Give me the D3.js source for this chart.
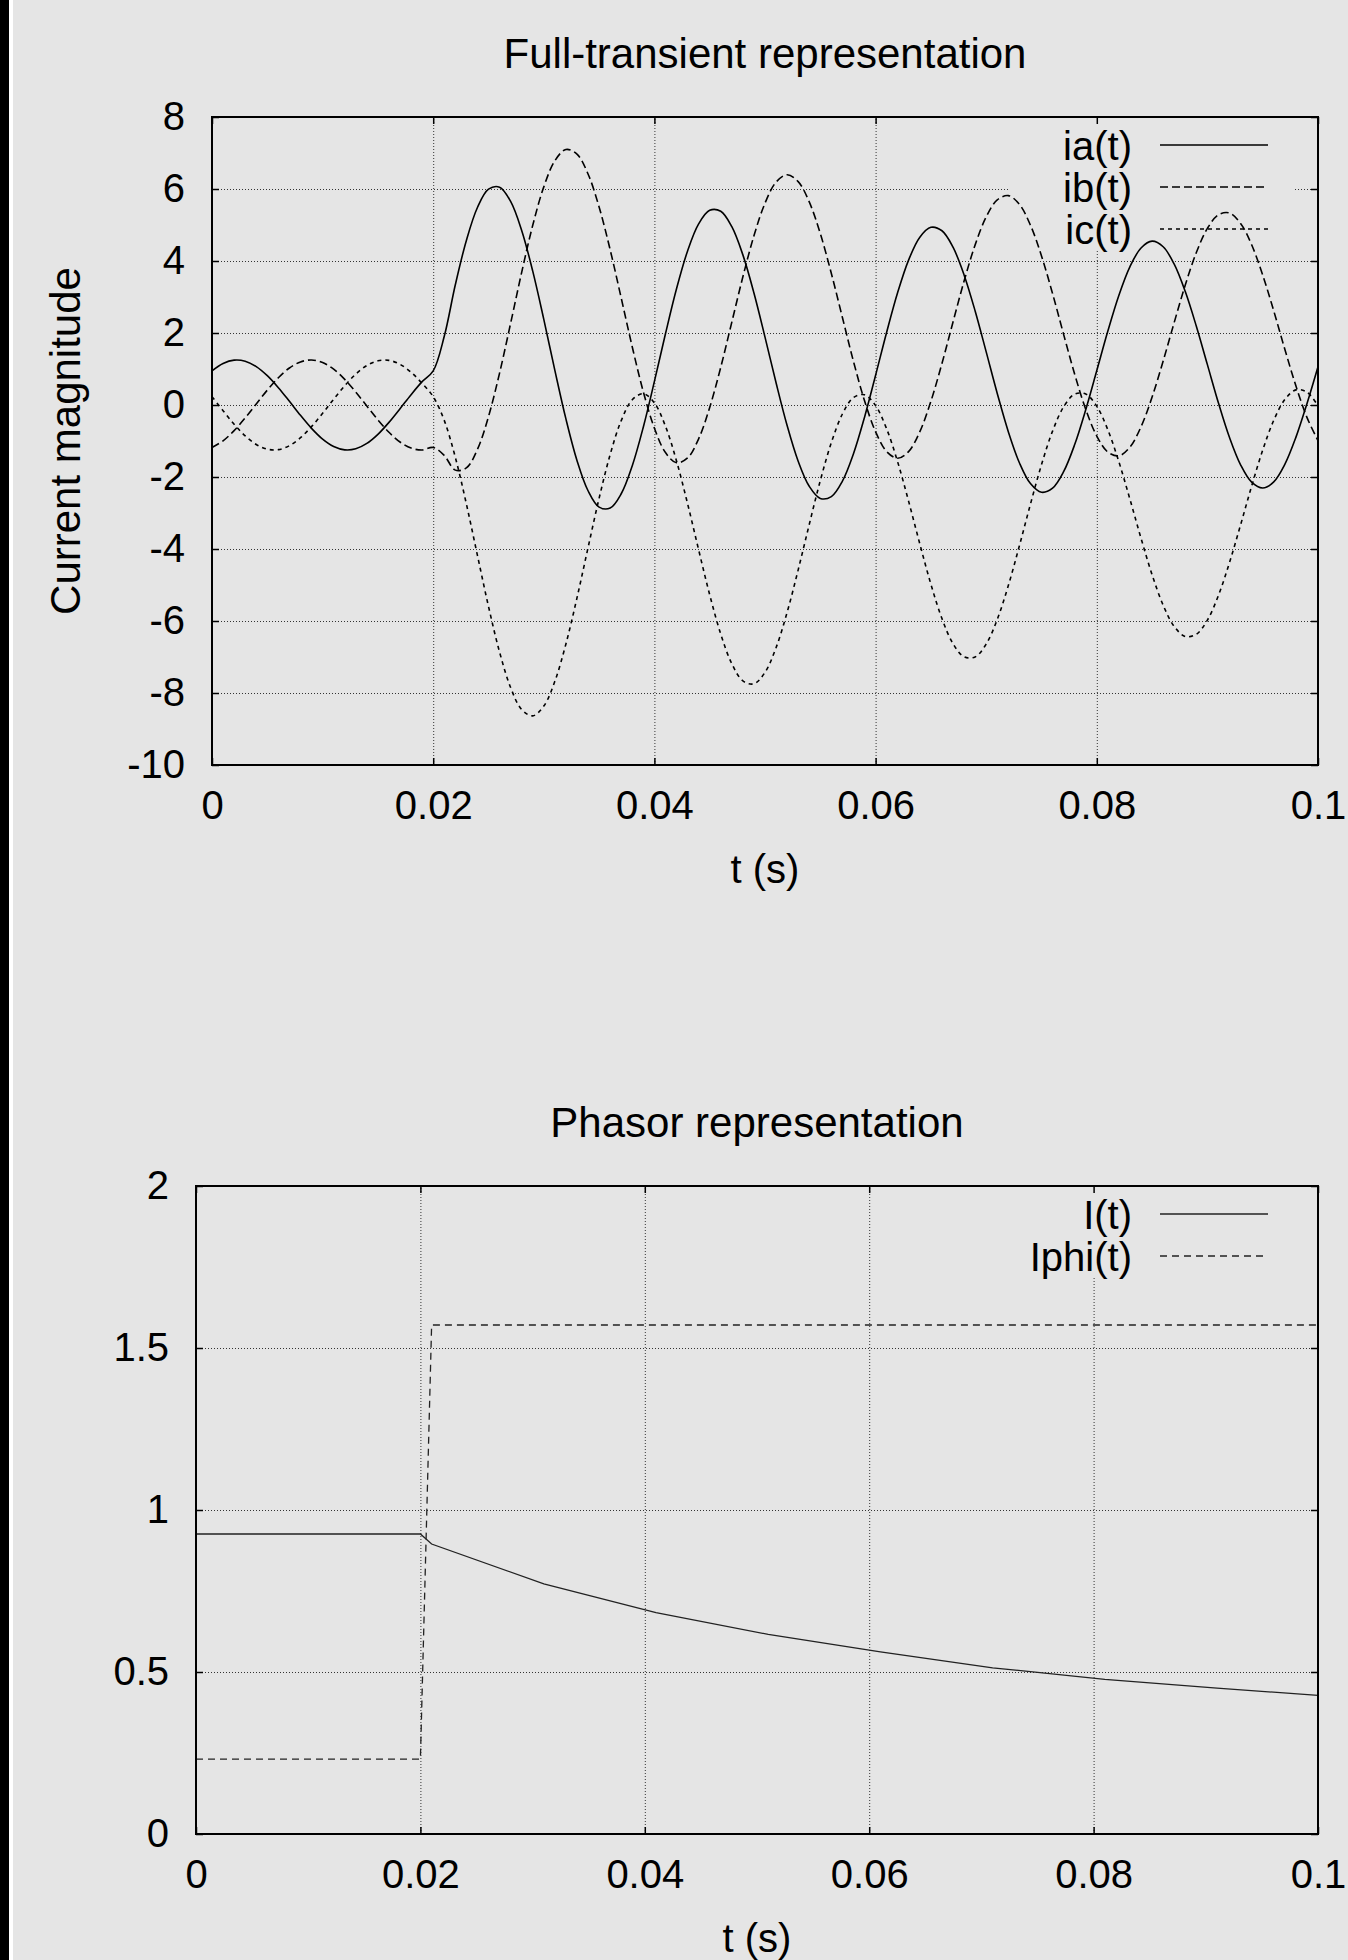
<!DOCTYPE html>
<html lang="en">

<head>
    <meta charset="utf-8">
    <title>Full-transient and phasor representation</title>
    <script src="https://d3js.org/d3.v7.min.js"></script>
    <style>
        body { margin: 0; background: #e5e5e5; }
        svg { display: block; }
    </style>
</head>

<body>
    <div id="chart"></div>

    <script>
        // ---- data ----

        // sample times of the transient plot (s)
        var tTransient = [0, 0.001, 0.002, 0.003, 0.004, 0.005, 0.006, 0.007, 0.008, 0.009,
            0.01, 0.011, 0.012, 0.013, 0.014, 0.015, 0.016, 0.017, 0.018, 0.019,
            0.02, 0.021, 0.022, 0.023, 0.024, 0.025, 0.026, 0.027, 0.028, 0.029,
            0.03, 0.031, 0.032, 0.033, 0.034, 0.035, 0.036, 0.037, 0.038, 0.039,
            0.04, 0.041, 0.042, 0.043, 0.044, 0.045, 0.046, 0.047, 0.048, 0.049,
            0.05, 0.051, 0.052, 0.053, 0.054, 0.055, 0.056, 0.057, 0.058, 0.059,
            0.06, 0.061, 0.062, 0.063, 0.064, 0.065, 0.066, 0.067, 0.068, 0.069,
            0.07, 0.071, 0.072, 0.073, 0.074, 0.075, 0.076, 0.077, 0.078, 0.079,
            0.08, 0.081, 0.082, 0.083, 0.084, 0.085, 0.086, 0.087, 0.088, 0.089,
            0.09, 0.091, 0.092, 0.093, 0.094, 0.095, 0.096, 0.097, 0.098, 0.099, 0.1];

        var ia = [0.948, 1.153, 1.246, 1.217, 1.068, 0.815, 0.482, 0.102, -0.288, -0.649,
            -0.948, -1.153, -1.246, -1.217, -1.068, -0.815, -0.482, -0.102, 0.288, 0.649,
            0.948, 1.908, 3.339, 4.572, 5.486, 5.994, 6.051, 5.655, 4.849, 3.718,
            2.378, 0.963, -0.387, -1.539, -2.382, -2.836, -2.863, -2.465, -1.686, -0.609,
            0.655, 1.978, 3.228, 4.280, 5.031, 5.409, 5.382, 4.953, 4.170, 3.112,
            1.887, 0.618, -0.570, -1.561, -2.258, -2.595, -2.545, -2.115, -1.353, -0.338,
            0.826, 2.022, 3.130, 4.039, 4.662, 4.936, 4.840, 4.383, 3.614, 2.611,
            1.475, 0.320, -0.741, -1.603, -2.183, -2.425, -2.311, -1.853, -1.100, -0.130,
            0.957, 2.053, 3.049, 3.844, 4.362, 4.551, 4.396, 3.912, 3.151, 2.188,
            1.121, 0.055, -0.904, -1.661, -2.144, -2.306, -2.135, -1.649, -0.900, 0.036, 1.064];

        var ib = [-1.180, -0.994, -0.712, -0.359, 0.028, 0.413, 0.758, 1.028, 1.197, 1.250,
            1.180, 0.994, 0.712, 0.359, -0.028, -0.413, -0.758, -1.028, -1.197, -1.250,
            -1.180, -1.403, -1.809, -1.748, -1.233, -0.322, 0.886, 2.269, 3.685, 4.992,
            6.059, 6.784, 7.097, 6.969, 6.418, 5.500, 4.312, 2.971, 1.611, 0.366,
            -0.643, -1.321, -1.604, -1.471, -0.939, -0.068, 1.050, 2.303, 3.561, 4.700,
            5.605, 6.190, 6.396, 6.206, 5.641, 4.761, 3.653, 2.430, 1.211, 0.117,
            -0.745, -1.294, -1.480, -1.287, -0.740, 0.103, 1.154, 2.306, 3.442, 4.448,
            5.225, 5.697, 5.817, 5.574, 4.996, 4.141, 3.095, 1.962, 0.855, -0.119,
            -0.863, -1.308, -1.411, -1.167, -0.604, 0.221, 1.221, 2.294, 3.334, 4.235,
            4.907, 5.285, 5.332, 5.044, 4.450, 3.611, 2.612, 1.550, 0.532, -0.344, -0.991];

        var ic = [0.232, -0.159, -0.534, -0.858, -1.096, -1.228, -1.240, -1.130, -0.909, -0.601,
            -0.232, 0.159, 0.534, 0.858, 1.096, 1.228, 1.240, 1.130, 0.909, 0.601,
            0.232, -0.428, -1.453, -2.748, -4.178, -5.596, -6.862, -7.848, -8.459, -8.635,
            -8.363, -7.674, -6.637, -5.358, -3.964, -2.592, -1.377, -0.435, 0.146, 0.313,
            0.058, -0.588, -1.554, -2.740, -4.023, -5.272, -6.364, -7.188, -7.664, -7.745,
            -7.426, -6.742, -5.760, -4.580, -3.319, -2.101, -1.044, -0.250, 0.206, 0.284,
            -0.018, -0.665, -1.587, -2.690, -3.860, -4.978, -5.933, -6.628, -6.995, -6.999,
            -6.640, -5.957, -5.016, -3.912, -2.755, -1.657, -0.726, -0.052, 0.302, 0.306,
            -0.037, -0.689, -1.581, -2.621, -3.702, -4.716, -5.561, -6.152, -6.430, -6.368,
            -5.974, -5.287, -4.375, -3.330, -2.254, -1.253, -0.425, 0.151, 0.420, 0.359, -0.023];

        // phasor plot samples
        var tPhasor = [0, 0.02, 0.021, 0.031, 0.041, 0.051, 0.061, 0.071, 0.081, 0.091, 0.1];
        var iMag = [0.926, 0.926, 0.895, 0.772, 0.683, 0.616, 0.562, 0.513, 0.477, 0.450, 0.428];
        var iPhi = [0.231, 0.231, 1.571, 1.571, 1.571, 1.571, 1.571, 1.571, 1.571, 1.571, 1.571];

        // ticks
        var xTicks = [0, 0.02, 0.04, 0.06, 0.08, 0.1];
        var xTickLabels = ["0", "0.02", "0.04", "0.06", "0.08", "0.1"];
        var transientTicks = [-10, -8, -6, -4, -2, 0, 2, 4, 6, 8];
        var transientTickLabels = ["-10", "-8", "-6", "-4", "-2", "0", "2", "4", "6", "8"];
        var phasorTicks = [0, 0.5, 1, 1.5, 2];
        var phasorTickLabels = ["0", "0.5", "1", "1.5", "2"];

        // ---- drawing ----
        var W = 1348,
            H = 1960,
            FONT = '"Liberation Sans", Arial, Helvetica, sans-serif',
            BG = "#e5e5e5";

        var svg = d3.select("#chart")
            .append("svg")
            .attr("width", W)
            .attr("height", H)
            .style("font-family", FONT);

        svg.append("rect").attr("width", W).attr("height", H).attr("fill", BG);
        // dark strip along the left edge of the original image
        svg.append("rect").attr("x", 0).attr("width", 9).attr("height", H).attr("fill", "#000");
        svg.append("rect").attr("x", 9).attr("width", 4).attr("height", H).attr("fill", "#fff");

        function styleGrid(sel) {
            sel.select(".domain").remove();
            sel.selectAll(".tick line")
                .attr("stroke", "#333")
                .attr("stroke-width", 1)
                .attr("stroke-dasharray", "1,2");
        }

        function styleTicks(sel) {
            sel.select(".domain").remove();
            sel.attr("font-family", FONT).attr("font-size", 40);
            sel.selectAll(".tick line").attr("stroke", "#000").attr("stroke-width", 1.5);
            sel.selectAll(".tick text").attr("fill", "#000");
        }

        function drawPanel(p) {
            var box = p.box;
            var x = d3.scaleLinear().domain([0, 0.1]).range([box.left, box.right]);
            var y = d3.scaleLinear().domain(p.yDomain).range([box.bottom, box.top]);
            var g = svg.append("g");

            // dotted grid (interior ticks only)
            g.append("g")
                .attr("transform", "translate(0," + box.bottom + ")")
                .call(d3.axisBottom(x).tickValues(xTicks.slice(1, -1))
                    .tickSize(-(box.bottom - box.top)).tickFormat(""))
                .call(styleGrid);
            g.append("g")
                .attr("transform", "translate(" + box.left + ",0)")
                .call(d3.axisLeft(y).tickValues(p.yTicks.slice(1, -1))
                    .tickSize(-(box.right - box.left)).tickFormat(""))
                .call(styleGrid);

            // the key box hides the grid behind it
            var keyH = 28 + 42 * (p.series.length - 1) + 21;
            g.append("rect")
                .attr("x", p.keyLeft)
                .attr("y", box.top + 1)
                .attr("width", box.right - 25 - p.keyLeft)
                .attr("height", keyH)
                .attr("fill", BG);

            // curves
            p.series.forEach(function(s) {
                var line = d3.line()
                    .x(function(d, i) { return x(p.t[i]); })
                    .y(function(d) { return y(d); })
                    .curve(p.curve);
                g.append("path")
                    .datum(s.values)
                    .attr("d", line)
                    .attr("fill", "none")
                    .attr("stroke", p.stroke)
                    .attr("stroke-width", p.width)
                    .attr("stroke-dasharray", s.dash);
            });

            // frame
            g.append("rect")
                .attr("x", box.left)
                .attr("y", box.top)
                .attr("width", box.right - box.left)
                .attr("height", box.bottom - box.top)
                .attr("fill", "none")
                .attr("stroke", "#000")
                .attr("stroke-width", 2);

            // ticks on all four sides, labels bottom and left
            g.append("g")
                .attr("transform", "translate(0," + box.bottom + ")")
                .call(d3.axisBottom(x).tickValues(xTicks).tickSize(-7).tickPadding(26)
                    .tickFormat(function(d, i) { return xTickLabels[i]; }))
                .call(styleTicks);
            g.append("g")
                .attr("transform", "translate(0," + box.top + ")")
                .call(d3.axisTop(x).tickValues(xTicks).tickSize(-7).tickFormat(""))
                .call(styleTicks);
            g.append("g")
                .attr("transform", "translate(" + box.left + ",0)")
                .call(d3.axisLeft(y).tickValues(p.yTicks).tickSize(-7).tickPadding(27)
                    .tickFormat(function(d, i) { return p.yTickLabels[i]; }))
                .call(styleTicks);
            g.append("g")
                .attr("transform", "translate(" + box.right + ",0)")
                .call(d3.axisRight(y).tickValues(p.yTicks).tickSize(-7).tickFormat(""))
                .call(styleTicks);

            // titles
            var cx = (box.left + box.right) / 2;
            g.append("text")
                .attr("x", cx)
                .attr("y", box.top - 49)
                .attr("text-anchor", "middle")
                .attr("font-size", 42)
                .text(p.title);
            g.append("text")
                .attr("x", cx)
                .attr("y", box.bottom + 118)
                .attr("text-anchor", "middle")
                .attr("font-size", 40)
                .text("t (s)");
            if (p.yTitle) {
                g.append("text")
                    .attr("transform", "translate(80," + (box.top + box.bottom) / 2 + ") rotate(-90)")
                    .attr("text-anchor", "middle")
                    .attr("font-size", 42)
                    .text(p.yTitle);
            }

            // key
            p.series.forEach(function(s, i) {
                var ky = box.top + 28 + 42 * i;
                g.append("text")
                    .attr("x", 1132)
                    .attr("y", ky + 15)
                    .attr("text-anchor", "end")
                    .attr("font-size", 40)
                    .text(s.name);
                g.append("line")
                    .attr("x1", 1160)
                    .attr("x2", 1268)
                    .attr("y1", ky)
                    .attr("y2", ky)
                    .attr("stroke", p.stroke)
                    .attr("stroke-width", p.width)
                    .attr("stroke-dasharray", s.dash);
            });
        }

        drawPanel({
            box: { left: 212, right: 1318, top: 117, bottom: 765 },
            yDomain: [-10, 8],
            yTicks: transientTicks,
            yTickLabels: transientTickLabels,
            title: "Full-transient representation",
            yTitle: "Current magnitude",
            t: tTransient,
            curve: d3.curveCatmullRom,
            stroke: "#000",
            width: 1.6,
            keyLeft: 1008,
            series: [
                { name: "ia(t)", values: ia, dash: null },
                { name: "ib(t)", values: ib, dash: "8,4" },
                { name: "ic(t)", values: ic, dash: "4,4" }
            ]
        });

        drawPanel({
            box: { left: 196, right: 1318, top: 1186, bottom: 1834 },
            yDomain: [0, 2],
            yTicks: phasorTicks,
            yTickLabels: phasorTickLabels,
            title: "Phasor representation",
            yTitle: null,
            t: tPhasor,
            curve: d3.curveLinear,
            stroke: "#222",
            width: 1.3,
            keyLeft: 975,
            series: [
                { name: "I(t)", values: iMag, dash: null },
                { name: "Iphi(t)", values: iPhi, dash: "7,5" }
            ]
        });
    </script>
</body>

</html>
